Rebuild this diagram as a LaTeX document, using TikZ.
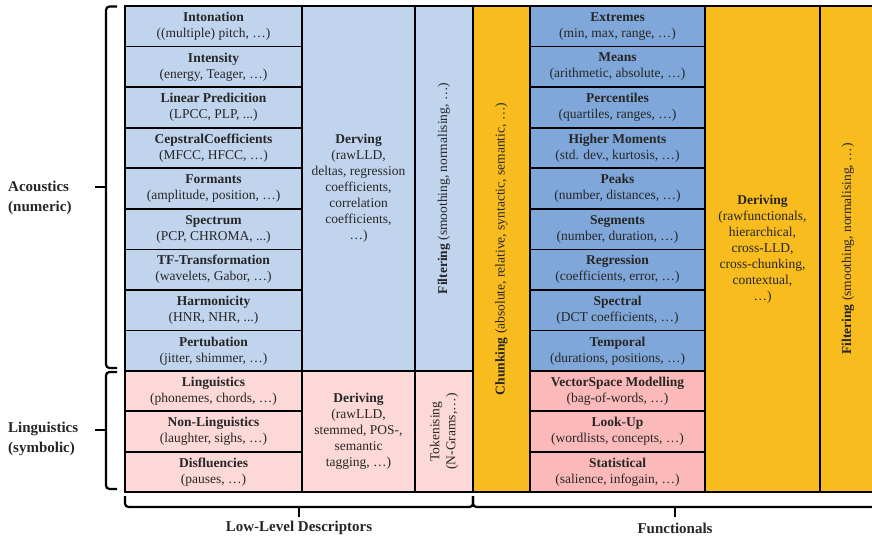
\documentclass[tikz,border=0pt]{standalone}
\usepackage{fontspec}
\setmainfont{Liberation Serif}
\definecolor{lblue}{HTML}{C1D4EE}
\definecolor{mblue}{HTML}{7FA7D9}
\definecolor{lpink}{HTML}{FCD8D8}
\definecolor{mpink}{HTML}{FBB9B9}
\definecolor{gold}{HTML}{F8BC1E}
\definecolor{ink}{HTML}{262626}
\begin{document}
\begin{tikzpicture}[x=1pt,y=-1pt,
  cell/.style={draw=black, line width=1.7pt, inner sep=0pt, align=center,
    text=ink, font=\fontsize{13.5}{16}\selectfont},
  lld/.style={cell, minimum width=177pt},
  fun/.style={cell, minimum width=175pt},
  arow/.style={minimum height=40.56pt},
  lrow/.style={minimum height=40.33pt},
  lab/.style={text=ink, inner sep=0pt, font=\bfseries\fontsize{15}{20}\selectfont},
  bracket/.style={line width=2.2pt, black, rounded corners=3.5pt},
  tick/.style={line width=2.2pt, black}]
\path[use as bounding box, clip] (0,0) rectangle (872,539);

% ---- low-level descriptors: acoustic rows ----
\node[lld, arow, fill=lblue] (into) at (213.5, 26.28) {\textbf{Intonation}\\((multiple) pitch, …)};
\node[lld, arow, fill=lblue] (inte) at (213.5, 66.84) {\textbf{Intensity}\\(energy, Teager, …)};
\node[lld, arow, fill=lblue] (lpc)  at (213.5, 107.40) {\textbf{Linear Predicition}\\(LPCC, PLP, ...)};
\node[lld, arow, fill=lblue] (ceps) at (213.5, 147.96) {\textbf{CepstralCoefficients}\\(MFCC, HFCC, …)};
\node[lld, arow, fill=lblue] (form) at (213.5, 188.52) {\textbf{Formants}\\(amplitude, position, …)};
\node[lld, arow, fill=lblue] (spec) at (213.5, 229.08) {\textbf{Spectrum}\\(PCP, CHROMA, ...)};
\node[lld, arow, fill=lblue] (tf)   at (213.5, 269.64) {\textbf{TF-Transformation}\\(wavelets, Gabor, …)};
\node[lld, arow, fill=lblue] (harm) at (213.5, 310.20) {\textbf{Harmonicity}\\(HNR, NHR, ...)};
\node[lld, arow, fill=lblue] (pert) at (213.5, 350.76) {\textbf{Pertubation}\\(jitter, shimmer, …)};
% ---- low-level descriptors: linguistic rows ----
\node[lld, lrow, fill=lpink] (ling) at (213.5, 391.17) {\textbf{Linguistics}\\(phonemes, chords, …)};
\node[lld, lrow, fill=lpink] (nonl) at (213.5, 431.50) {\textbf{Non-Linguistics}\\(laughter, sighs, …)};
\node[lld, lrow, fill=lpink] (disf) at (213.5, 471.83) {\textbf{Disfluencies}\\(pauses, …)};

% ---- deriving / filtering / tokenising columns ----
\node[cell, fill=lblue, minimum width=113pt, minimum height=365pt] (derA) at (358.5, 188.5)
  {\textbf{Derving}\\(rawLLD,\\deltas, regression\\coefficients,\\correlation\\coefficients,\\…)};
\node[cell, fill=lblue, rotate=90, minimum width=365pt, minimum height=58pt] (filtA) at (444, 188.5)
  {\textbf{Filtering} (smoothing, normalising, …)};
\node[cell, fill=lpink, minimum width=113pt, minimum height=121pt] (derL) at (358.5, 431.5)
  {\textbf{Deriving}\\(rawLLD,\\stemmed, POS-,\\semantic\\tagging, …)};
\node[cell, fill=lpink, rotate=90, minimum width=121pt, minimum height=58pt] (tok) at (444, 431.5)
  {Tokenising\\(N-Grams,…)};

% ---- chunking ----
\node[cell, fill=gold, rotate=90, minimum width=486pt, minimum height=57pt] (chunk) at (501.5, 249)
  {\textbf{Chunking} (absolute, relative, syntactic, semantic, …)};

% ---- functionals: acoustic rows ----
\node[fun, arow, fill=mblue] (extr) at (617.5, 26.28) {\textbf{Extremes}\\(min, max, range, …)};
\node[fun, arow, fill=mblue] (mean) at (617.5, 66.84) {\textbf{Means}\\(arithmetic, absolute, …)};
\node[fun, arow, fill=mblue] (perc) at (617.5, 107.40) {\textbf{Percentiles}\\(quartiles, ranges, …)};
\node[fun, arow, fill=mblue] (mom)  at (617.5, 147.96) {\textbf{Higher Moments}\\(std. dev., kurtosis, …)};
\node[fun, arow, fill=mblue] (peak) at (617.5, 188.52) {\textbf{Peaks}\\(number, distances, …)};
\node[fun, arow, fill=mblue] (segm) at (617.5, 229.08) {\textbf{Segments}\\(number, duration, …)};
\node[fun, arow, fill=mblue] (regr) at (617.5, 269.64) {\textbf{Regression}\\(coefficients, error, …)};
\node[fun, arow, fill=mblue] (spct) at (617.5, 310.20) {\textbf{Spectral}\\(DCT coefficients, …)};
\node[fun, arow, fill=mblue] (temp) at (617.5, 350.76) {\textbf{Temporal}\\(durations, positions, …)};
% ---- functionals: linguistic rows ----
\node[fun, lrow, fill=mpink] (vsm)  at (617.5, 391.17) {\textbf{VectorSpace Modelling}\\(bag-of-words, …)};
\node[fun, lrow, fill=mpink] (look) at (617.5, 431.50) {\textbf{Look-Up}\\(wordlists, concepts, …)};
\node[fun, lrow, fill=mpink] (stat) at (617.5, 471.83) {\textbf{Statistical}\\(salience, infogain, …)};

% ---- functional deriving / filtering ----
\node[cell, fill=gold, minimum width=115pt, minimum height=486pt] (derF) at (762.5, 249)
  {\textbf{Deriving}\\(rawfunctionals,\\hierarchical,\\cross-LLD,\\cross-chunking,\\contextual,\\…)};
\node[cell, fill=gold, rotate=90, minimum width=486pt, minimum height=56pt] (filtF) at (848, 249)
  {\textbf{Filtering} (smoothing, normalising, …)};

% ---- grouping brackets ----
\coordinate (acTop) at (117, 6.5);
\coordinate (acBot) at (117, 368);
\coordinate (acTip) at (95, 187);
\coordinate (liTop) at (117, 372);
\coordinate (liBot) at (117, 489);
\coordinate (liTip) at (95, 430);
\coordinate (lldL) at (125, 496);
\coordinate (lldR) at (473, 496);
\coordinate (funR) at (880, 496);
\coordinate (lldTip) at (299, 517);
\coordinate (funTip) at (675, 517);

\draw[bracket] (acTop) -- (106, 6.5) -- (106, 368) -- (acBot);
\draw[tick] (acTip) -- (106, 187);
\draw[bracket] (liTop) -- (106, 372) -- (106, 489) -- (liBot);
\draw[tick] (liTip) -- (106, 430);
\draw[bracket] (lldL) -- (125, 507) -- (473, 507) -- (lldR);
\draw[bracket] (lldR) -- (473, 507) -- (880, 507) -- (funR);
\draw[tick] (lldTip) -- (299, 507);
\draw[tick] (funTip) -- (675, 507);

\node[lab, align=left, anchor=west] (acou) at (8, 198) {Acoustics\\(numeric)};
\node[lab, align=left, anchor=west] (lngs) at (8, 439) {Linguistics\\(symbolic)};
\node[lab] (lldlab) at (299, 528) {Low-Level Descriptors};
\node[lab] (funlab) at (675, 528) {Functionals};
\end{tikzpicture}
\end{document}
